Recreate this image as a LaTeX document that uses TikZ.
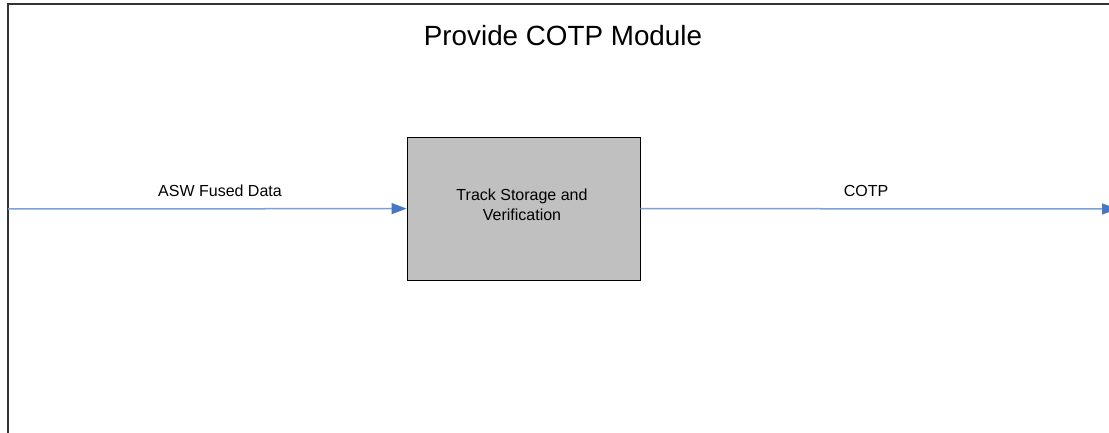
\documentclass[tikz,border=0pt]{standalone}
\usepackage{fontspec}
\setmainfont{Liberation Sans}
\usetikzlibrary{positioning, arrows.meta}
\usepackage{xcolor}
\definecolor{cotpframe}{HTML}{333333}
\definecolor{cotpbox}{HTML}{C0C0C0}
\definecolor{cotpline}{HTML}{7BA2D6}
\definecolor{cotphead}{HTML}{4676C6}

\begin{document}
\begin{tikzpicture}[x=1pt, y=-1pt,
    flow/.style={cotpline, line width=1.5pt,
      -{Triangle[length=15pt, width=11pt, fill=cotphead, color=cotphead]}},
    procbox/.style={draw=black, line width=0.9pt, fill=cotpbox,
      minimum width=233pt, minimum height=143pt, align=center,
      font=\fontsize{16}{20}\selectfont},
    flowlabel/.style={font=\fontsize{16}{20}\selectfont}]
        \useasboundingbox[fill=white] (0,0) rectangle (1109,433);
        \draw[cotpframe, line width=2pt] (1130,4.5) -- (7.5,4.5) -- (7.5,450);
        \node[font=\fontsize{27.8}{33}\selectfont] (title) at (563,36) {Provide COTP Module};
        \node[procbox] (track) at (523.5,208.5) {};
        \node[align=center, font=\fontsize{16}{20}\selectfont] (tracktext) at (522,205) {Track Storage and\\Verification};
        \coordinate (in) at (8,209);
        \coordinate (out) at (1117,209);
        \draw[flow] (in) -- (track);
        \draw[flow] (track) -- (out);
        \node[flowlabel] (fused) at (220,191) {ASW Fused Data};
        \node[flowlabel] (cotp) at (866,191) {COTP};
      \end{tikzpicture}
\end{document}
